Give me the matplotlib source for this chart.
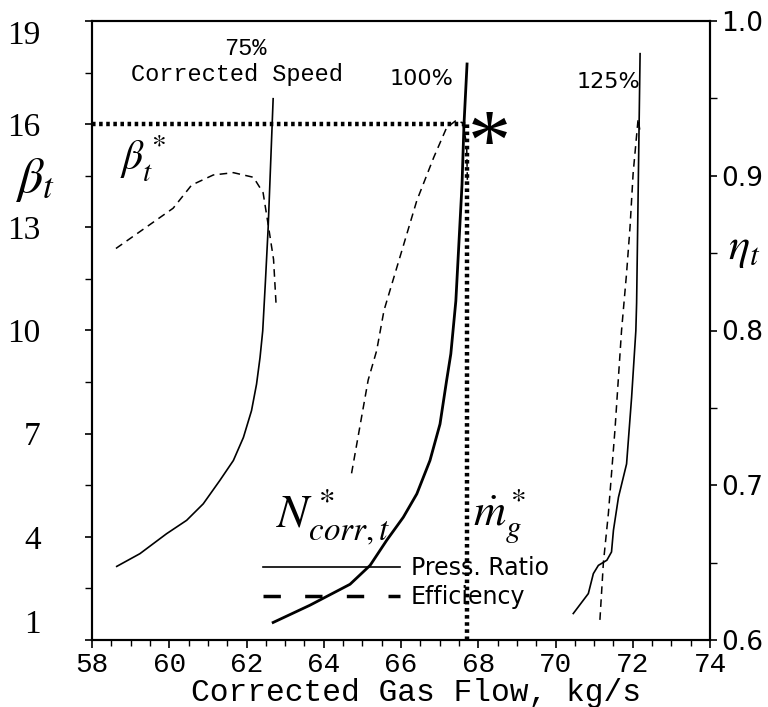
import matplotlib
matplotlib.use("Agg")
import matplotlib.pyplot as plt
from matplotlib.lines import Line2D
from matplotlib.ticker import MultipleLocator

plt.rcParams['mathtext.fontset'] = 'stix'

# corrected gas flow (kg/s) vs pressure ratio, per speed line
flow_75 = [58.64, 59.24, 59.93, 60.45, 60.88, 61.31, 61.66, 61.92, 62.13, 62.26,
           62.35, 62.42, 62.49, 62.56, 62.69]
pr_75 = [3.14, 3.51, 4.09, 4.48, 4.96, 5.64, 6.22, 6.89, 7.67, 8.44,
         9.21, 9.99, 11.43, 12.97, 16.74]
flow_100 = [62.69, 63.64, 64.68, 65.2, 65.63, 66.06, 66.41, 66.75, 67.01, 67.18,
            67.29, 67.42, 67.58, 67.63, 67.71]
pr_100 = [1.51, 2.01, 2.62, 3.17, 3.9, 4.57, 5.25, 6.22, 7.28, 8.54,
          9.32, 10.86, 14.25, 15.98, 17.75]
flow_125 = [70.46, 70.85, 70.98, 71.11, 71.33, 71.45, 71.5, 71.63, 71.84, 71.97,
            72.08, 72.1, 72.19]
pr_125 = [1.77, 2.35, 2.93, 3.17, 3.32, 3.56, 4.19, 5.15, 6.12, 8.05,
          9.99, 10.8, 18.05]

# corrected gas flow vs efficiency
eflow_75 = [58.62, 60.1, 60.58, 61.14, 61.66, 62.18, 62.43, 62.57, 62.7, 62.77]
eff_75 = [0.853, 0.879, 0.894, 0.9005, 0.902, 0.899, 0.889, 0.867, 0.846, 0.815]
eflow_100 = [64.72, 65.15, 65.37, 65.56, 66.41, 66.85, 67.18, 67.44, 67.6, 67.7, 67.72]
eff_100 = [0.7077, 0.768, 0.787, 0.813, 0.884, 0.912, 0.931, 0.936, 0.934, 0.92, 0.895]
eflow_125 = [71.15, 71.24, 71.37, 71.54, 71.71, 71.84, 71.93, 72.01, 72.14, 72.19]
eff_125 = [0.613, 0.650, 0.682, 0.736, 0.80, 0.837, 0.867, 0.9016, 0.937, 0.928]

# design point
design_flow = 67.7
design_pr = 16.0

xticks = [58, 60, 62, 64, 66, 68, 70, 72, 74]
pr_ticks = [1, 4, 7, 10, 13, 16, 19]
eff_ticks = [0.6, 0.7, 0.8, 0.9, 1.0]

fig = plt.figure(figsize=(7.68, 7.07), dpi=100)
ax = fig.add_axes([92/768, 1-640/707, 618/768, 619/707])
ax2 = ax.twinx()

dash = (0, (5, 3.5))
ax.plot(flow_75, pr_75, color='black', lw=1.2)
ax.plot(flow_100, pr_100, color='black', lw=2.0)
ax.plot(flow_125, pr_125, color='black', lw=1.2)
ax2.plot(eflow_75, eff_75, color='black', lw=1.1, linestyle=dash)
ax2.plot(eflow_100, eff_100, color='black', lw=1.1, linestyle=dash)
ax2.plot(eflow_125, eff_125, color='black', lw=1.1, linestyle=dash)

# design point guide lines
ax.plot([58, design_flow], [design_pr, design_pr], color='black', lw=3.2, linestyle=(0, (0.8, 0.8)))
ax.plot([design_flow, design_flow], [1, design_pr], color='black', lw=3.2, linestyle=(0, (0.8, 0.8)))

ax.set_xlim(58, 74)
ax.set_ylim(1, 19)
ax2.set_ylim(0.6, 1.0)

ax.set_xticks(xticks)
ax.xaxis.set_minor_locator(MultipleLocator(0.5))
ax.set_yticks(pr_ticks)
ax.yaxis.set_minor_locator(MultipleLocator(1.5, offset=1))
ax2.set_yticks(eff_ticks)
ax2.yaxis.set_minor_locator(MultipleLocator(0.05))

ax.tick_params(axis='x', which='major', direction='out', length=6, width=1.2, pad=3,
               labelsize=20, labelfontfamily='Liberation Mono')
ax.tick_params(axis='x', which='minor', direction='out', length=4, width=1.0)
ax.tick_params(axis='y', which='major', direction='out', length=5, width=1.2, pad=32,
               labelsize=24, labelfontfamily='Liberation Serif')
ax.tick_params(axis='y', which='minor', direction='out', length=5, width=1.0)
ax2.tick_params(axis='y', which='major', direction='out', length=5, width=1.2, pad=3,
                labelsize=19, labelfontfamily='DejaVu Sans')
ax2.tick_params(axis='y', which='minor', direction='out', length=5, width=1.0)
ax2.set_yticklabels(['%.1f' % v for v in eff_ticks])

fig.canvas.draw()
ylabels = ax.get_yticklabels()
ylabels[0].set_va('bottom')
ylabels[-1].set_va('top')

for a in (ax, ax2):
    for s in a.spines.values():
        s.set_linewidth(1.5)

ax.set_xlabel('Corrected Gas Flow, kg/s', fontsize=22.5, family='Liberation Mono',
              labelpad=0, x=0.524)

# annotations
mono = 'Liberation Mono'
ax.text(61.96, 18.19, '75%', ha='center', va='center', fontsize=17, family=mono)
ax.text(61.75, 17.43, 'Corrected Speed', ha='center', va='center', fontsize=17, family=mono)
ax.text(66.52, 17.32, '100%', ha='center', va='center', fontsize=16, family='DejaVu Sans')
ax.text(71.36, 17.23, '125%', ha='center', va='center', fontsize=16, family='DejaVu Sans')
ax.text(68.3, 15.3, '*', ha='center', va='center', fontsize=62, family='Liberation Serif')
ax.text(59.32, 15.0, r'$\beta_t^*$', ha='center', va='center', fontsize=30)
ax.text(64.24, 4.6, r'$N^*_{corr,t}$', ha='center', va='center', fontsize=34)
ax.text(68.56, 4.62, r'$\dot{m}^*_g$', ha='center', va='center', fontsize=32)
ax.text(-0.092, 0.743, r'$\beta_t$', transform=ax.transAxes, ha='center', va='center', fontsize=36)
ax.text(1.055, 0.633, r'$\eta_t$', transform=ax.transAxes, ha='center', va='center', fontsize=32)

handles = [Line2D([], [], color='black', lw=1.2),
           Line2D([], [], color='black', lw=2.5, linestyle=(0, (5, 7)))]
ax.legend(handles, ['Press. Ratio', 'Efficiency'], loc='upper left',
          bbox_to_anchor=(0.277, 0.135), frameon=False, handlelength=5.8,
          handletextpad=0.45, labelspacing=0.2, borderpad=0, borderaxespad=0,
          prop={'family': 'DejaVu Sans', 'size': 17})

fig.savefig('out.png', dpi=100)
